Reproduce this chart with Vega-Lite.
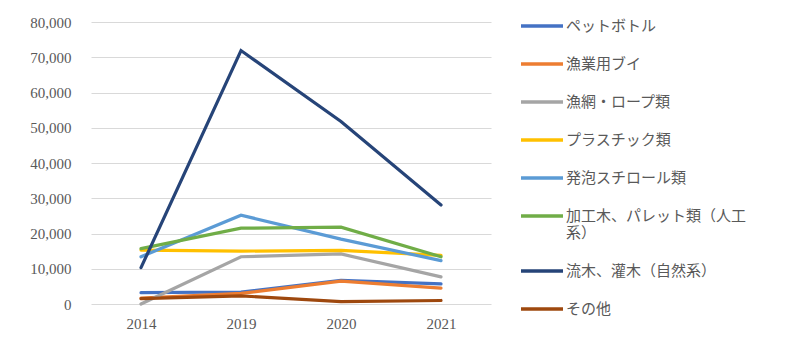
{
  "$schema": "https://vega.github.io/schema/vega-lite/v6.json",
  "autosize": "none",
  "padding": {"left": 91, "top": 22, "right": 312, "bottom": 49},
  "width": 400,
  "height": 282,
  "background": "white",
  "config": {
    "view": {"stroke": null},
    "font": "Noto Sans CJK JP"
  },
  "data": {
    "values": [
      {"year": "2014", "cat": "ペットボトル", "v": 3200},
      {"year": "2019", "cat": "ペットボトル", "v": 3400},
      {"year": "2020", "cat": "ペットボトル", "v": 6700},
      {"year": "2021", "cat": "ペットボトル", "v": 5700},
      {"year": "2014", "cat": "漁業用ブイ", "v": 1700},
      {"year": "2019", "cat": "漁業用ブイ", "v": 3000},
      {"year": "2020", "cat": "漁業用ブイ", "v": 6500},
      {"year": "2021", "cat": "漁業用ブイ", "v": 4500},
      {"year": "2014", "cat": "漁網・ロープ類", "v": 0},
      {"year": "2019", "cat": "漁網・ロープ類", "v": 13400},
      {"year": "2020", "cat": "漁網・ロープ類", "v": 14200},
      {"year": "2021", "cat": "漁網・ロープ類", "v": 7700},
      {"year": "2014", "cat": "プラスチック類", "v": 15300},
      {"year": "2019", "cat": "プラスチック類", "v": 15000},
      {"year": "2020", "cat": "プラスチック類", "v": 15200},
      {"year": "2021", "cat": "プラスチック類", "v": 13800},
      {"year": "2014", "cat": "発泡スチロール類", "v": 13400},
      {"year": "2019", "cat": "発泡スチロール類", "v": 25200},
      {"year": "2020", "cat": "発泡スチロール類", "v": 18400},
      {"year": "2021", "cat": "発泡スチロール類", "v": 12300},
      {"year": "2014", "cat": "加工木、パレット類（人工系）", "v": 15700},
      {"year": "2019", "cat": "加工木、パレット類（人工系）", "v": 21500},
      {"year": "2020", "cat": "加工木、パレット類（人工系）", "v": 21800},
      {"year": "2021", "cat": "加工木、パレット類（人工系）", "v": 13400},
      {"year": "2014", "cat": "流木、灌木（自然系）", "v": 10300},
      {"year": "2019", "cat": "流木、灌木（自然系）", "v": 71900},
      {"year": "2020", "cat": "流木、灌木（自然系）", "v": 51800},
      {"year": "2021", "cat": "流木、灌木（自然系）", "v": 28100},
      {"year": "2014", "cat": "その他", "v": 1500},
      {"year": "2019", "cat": "その他", "v": 2300},
      {"year": "2020", "cat": "その他", "v": 700},
      {"year": "2021", "cat": "その他", "v": 1000}
    ]
  },
  "mark": {"type": "line", "strokeWidth": 3.2, "strokeCap": "round", "strokeJoin": "miter"},
  "encoding": {
    "x": {
      "field": "year", "type": "ordinal",
      "scale": {"type": "point", "padding": 0.5},
      "axis": {
        "title": null, "labelAngle": 0, "ticks": false,
        "domain": false, "grid": false,
        "labelFont": "Liberation Serif", "labelFontSize": 15, "labelColor": "#595959",
        "labelPadding": 12
      }
    },
    "y": {
      "field": "v", "type": "quantitative",
      "scale": {"domain": [0, 80000], "nice": false},
      "axis": {
        "title": null, "values": [0, 10000, 20000, 30000, 40000, 50000, 60000, 70000, 80000],
        "labelExpr": "format(datum.value, ',')",
        "ticks": false, "domain": false,
        "gridColor": "#d9d9d9", "gridWidth": 1,
        "labelFont": "Liberation Serif", "labelFontSize": 15, "labelColor": "#595959",
        "labelPadding": 20
      }
    },
    "color": {
      "field": "cat", "type": "nominal",
      "scale": {
        "domain": ["ペットボトル", "漁業用ブイ", "漁網・ロープ類", "プラスチック類", "発泡スチロール類", "加工木、パレット類（人工系）", "流木、灌木（自然系）", "その他"],
        "range": ["#4472C4", "#ED7D31", "#A5A5A5", "#FFC000", "#5B9BD5", "#70AD47", "#264478", "#9E480E"]
      },
      "legend": {
        "title": null,
        "orient": "none",
        "legendX": 428,
        "legendY": -19,
        "symbolType": "stroke",
        "symbolSize": 1764,
        "symbolStrokeWidth": 3.5,
        "labelFont": "Noto Sans CJK JP",
        "labelFontSize": 15,
        "labelColor": "#595959",
        "labelOffset": 1,
        "labelLimit": 300,
        "rowPadding": 7,
        "labelExpr": "datum.label == '加工木、パレット類（人工系）' ? ['加工木、パレット類（人工', '系）'] : datum.label"
      }
    }
  }
}
